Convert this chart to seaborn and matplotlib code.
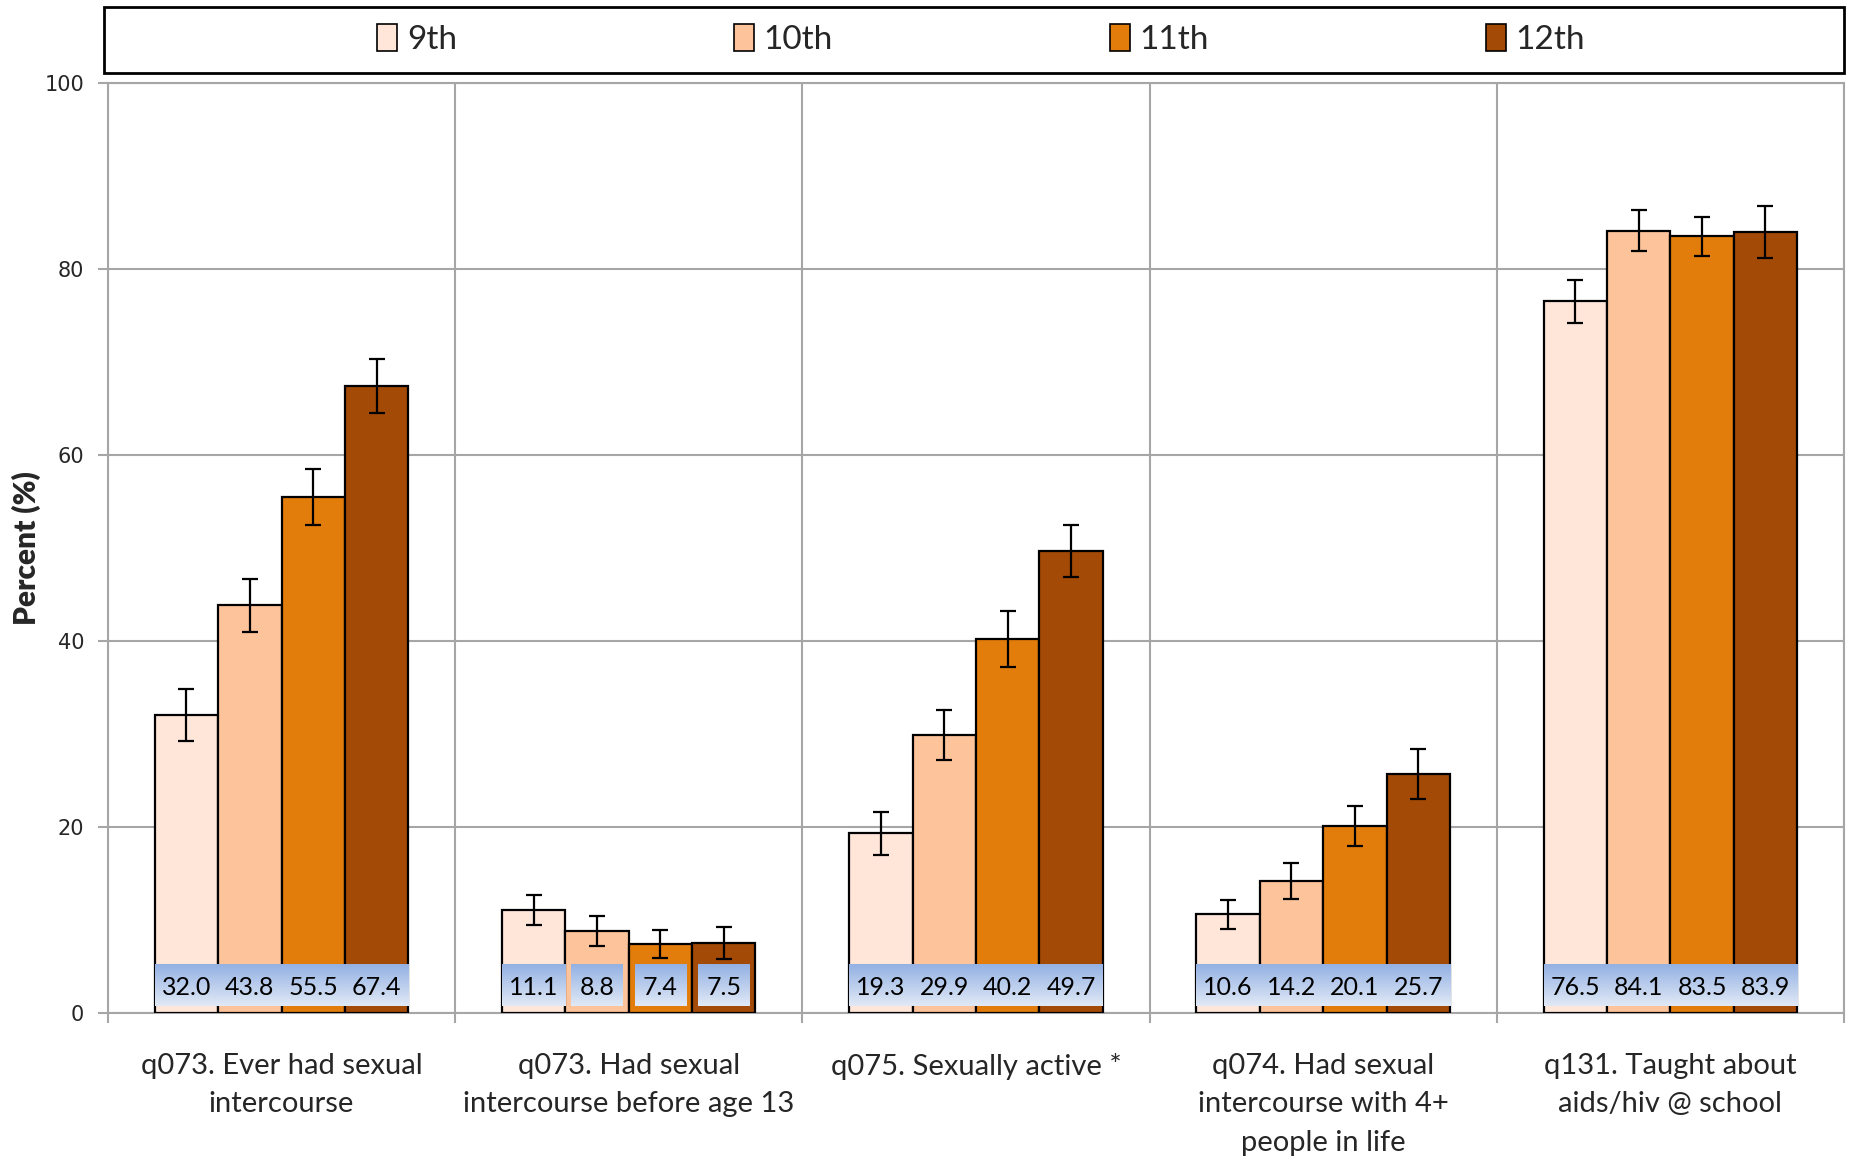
import numpy as np
import pandas as pd
import matplotlib
matplotlib.use("Agg")
import matplotlib.pyplot as plt
import seaborn as sns
from matplotlib.patches import Rectangle
from matplotlib.colors import LinearSegmentedColormap
from matplotlib.ticker import FixedLocator

# ---------------- data ----------------
categories = [
    "q073. Ever had sexual\nintercourse",
    "q073. Had sexual\nintercourse before age 13",
    "q075. Sexually active *",
    "q074. Had sexual\nintercourse with 4+\npeople in life",
    "q131. Taught about\naids/hiv @ school",
]
grades = ["9th", "10th", "11th", "12th"]
values_9th = [32.0, 11.1, 19.3, 10.6, 76.5]
values_10th = [43.8, 8.8, 29.9, 14.2, 84.1]
values_11th = [55.5, 7.4, 40.2, 20.1, 83.5]
values_12th = [67.4, 7.5, 49.7, 25.7, 83.9]
err_9th = [2.8, 1.6, 2.3, 1.6, 2.3]
err_10th = [2.9, 1.6, 2.7, 1.9, 2.2]
err_11th = [3.0, 1.5, 3.0, 2.1, 2.1]
err_12th = [2.9, 1.7, 2.8, 2.7, 2.8]
y_ticks = [0, 20, 40, 60, 80, 100]

colors = ["#FFE6D9", "#FDC49B", "#E27C0A", "#A34A07"]
grid_color = "#A6A6A6"

values = [values_9th, values_10th, values_11th, values_12th]
errors = [err_9th, err_10th, err_11th, err_12th]

rows = []
for g, vals in zip(grades, values):
    for c, v in zip(categories, vals):
        rows.append({"category": c, "grade": g, "value": v})
df = pd.DataFrame(rows)

# ---------------- style ----------------
sns.set_theme(style="white")
plt.rcParams['font.family'] = ['Lato', 'DejaVu Sans']

fig = plt.figure(figsize=(18.51, 11.60), dpi=100)
ax = fig.add_axes([0.0583, 0.1267, 0.9962 - 0.0583, 0.9288 - 0.1267])

sns.barplot(data=df, x="category", y="value", hue="grade", order=categories,
            hue_order=grades, palette=colors, width=0.73, gap=0,
            errorbar=None, edgecolor="black", linewidth=1.6,
            saturation=1, legend=False, ax=ax, zorder=3)

bar_containers = list(ax.containers)

# error bars
for cont, errs in zip(bar_containers, errors):
    for bar, e in zip(cont, errs):
        x = bar.get_x() + bar.get_width() / 2
        h = bar.get_height()
        ax.errorbar(x, h, yerr=e, fmt="none", ecolor="black", elinewidth=1.6,
                    capsize=6, capthick=1.6, zorder=6)

# data labels with gradient boxes
cmap = LinearSegmentedColormap.from_list("lbl", ["#93B1E3", "#E1E9F6"])
grad = np.linspace(0, 1, 64).reshape(-1, 1)
for cont in bar_containers:
    for bar in cont:
        x = bar.get_x() + bar.get_width() / 2
        bw = bar.get_width()
        txt = f"{bar.get_height():.1f}"
        w = bw if len(txt) >= 4 else bw * 0.81
        ax.imshow(grad, cmap=cmap, extent=[x - w / 2, x + w / 2, 0.78, 5.25],
                  origin="upper", aspect="auto", zorder=4, interpolation="bilinear")
        ax.text(x, 2.7, txt, ha="center", va="center", fontsize=18,
                color="black", zorder=5)

ax.set_xlim(-0.5, 4.5)
ax.set_ylim(0, 100)
ax.set_aspect("auto")

# axes, grid
ax.set_xticks(range(len(categories)))
ax.set_xticklabels(categories, fontsize=21, linespacing=1.58)
ax.set_yticks(y_ticks)
ax.set_yticklabels([str(t) for t in y_ticks], fontfamily="DejaVu Sans", fontsize=15)
ax.xaxis.set_minor_locator(FixedLocator(np.arange(-0.5, 5, 1)))
ax.tick_params(axis="x", which="major", length=0, pad=29)
ax.tick_params(axis="x", which="minor", length=7, width=1.5, color=grid_color, direction="out", bottom=True)
ax.tick_params(axis="y", which="major", length=7, width=1.5, color=grid_color, direction="out", left=True, pad=10)
ax.grid(True, axis="y", which="major", color=grid_color, linewidth=1.5, zorder=0)
ax.grid(True, axis="x", which="minor", color=grid_color, linewidth=1.5, zorder=0)
ax.grid(False, axis="x", which="major")
ax.set_axisbelow(True)
for s in ax.spines.values():
    s.set_color(grid_color)
    s.set_linewidth(1.5)

ax.set_xlabel("")
ax.set_ylabel("Percent (%)", fontsize=21.5, fontweight="heavy")
ax.yaxis.set_label_coords(-0.0386, 0.5)

# legend
handles = [Rectangle((0, 0), 1, 1, facecolor=c, edgecolor="black", linewidth=1.2) for c in colors]
fig.legend(handles, grades, loc="center", bbox_to_anchor=(0.530, 0.966), frameon=False,
           ncol=4, columnspacing=8.3, handlelength=0.6, handleheight=0.9,
           handletextpad=0.3, fontsize=24)
fig.add_artist(Rectangle((0.056, 0.937), 0.94, 0.057, transform=fig.transFigure,
                         fill=False, edgecolor="black", linewidth=2))

fig.savefig("out.png", dpi=100)
